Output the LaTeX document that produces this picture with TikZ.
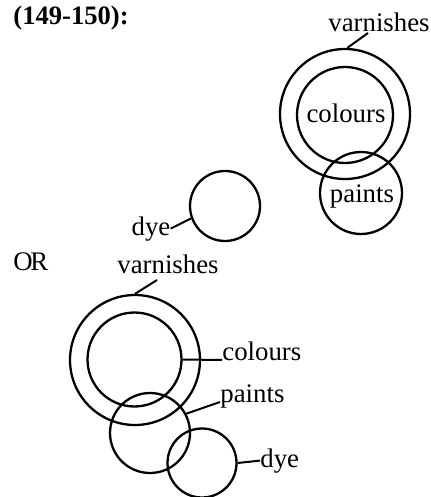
\documentclass[tikz,border=0pt]{standalone}
\usepackage{fontspec}
\setmainfont{Liberation Serif}
\begin{document}
\begin{tikzpicture}[
  x=0.5pt, y=-0.5pt,
  every node/.style = {font=\fontsize{13.4}{15}\selectfont, inner sep=0pt},
  ring/.style       = {draw, circle, line width=1.15pt},
  lbl/.style        = {anchor=base west},
  lead/.style       = {line width=1pt},
]
\useasboundingbox (0,0) rectangle (430,497);

% ── FIRST DIAGRAM ────────────────────────────────────────────────────────────
\node[lbl, font=\fontsize{13.3}{15}\selectfont\bfseries] (ttl) at (13,25) {(149-150):};

\node[ring, minimum size=65pt] (varA) at (345,114) {};
\node[ring, minimum size=48pt] (colA) at (345,115) {};
\node[ring, minimum size=41pt] (paiA) at (361,193) {};
\node[ring, minimum size=35pt] (dyeA) at (225,206) {};

\node[lbl] (varAl) at (328,32) {varnishes};
\node[anchor=base] (colAl) at (346,123) {colours};
\node[anchor=base] (paiAl) at (362,203) {paints};
\node[anchor=base] (dyeAl) at (151,235) {dye};

\coordinate (varAt) at (368,33);
\draw[lead] (varA.88)  -- (varAt);
\draw[lead] (dyeA.200) -- (dyeAl.east);

% ── SECOND DIAGRAM ───────────────────────────────────────────────────────────
\node[lbl] (orl) at (13,270) {O\kern-1.2ptR};

\node[ring, minimum size=65pt] (varB) at (135,360) {};
\node[ring, minimum size=47pt] (colB) at (134.5,359.5) {};
\node[ring, minimum size=40pt] (paiB) at (150,433) {};
\node[ring, minimum size=34.5pt] (dyeB) at (202,463) {};

\node[lbl] (varBl) at (117,273) {varnishes};
\node[lbl] (colBl) at (222,360) {colours};
\node[lbl] (paiBl) at (220,402) {paints};
\node[lbl] (dyeBl) at (260,467) {dye};

\coordinate (varBt) at (157,280);
\draw[lead] (varB.90)  -- (varBt);
\draw[lead] (colB.east) -- (colBl.base west);
\draw[lead] (paiB.28)  -- (paiBl.base west);
\draw[lead] (dyeB.east) -- (dyeBl.west);

\end{tikzpicture}
\end{document}
